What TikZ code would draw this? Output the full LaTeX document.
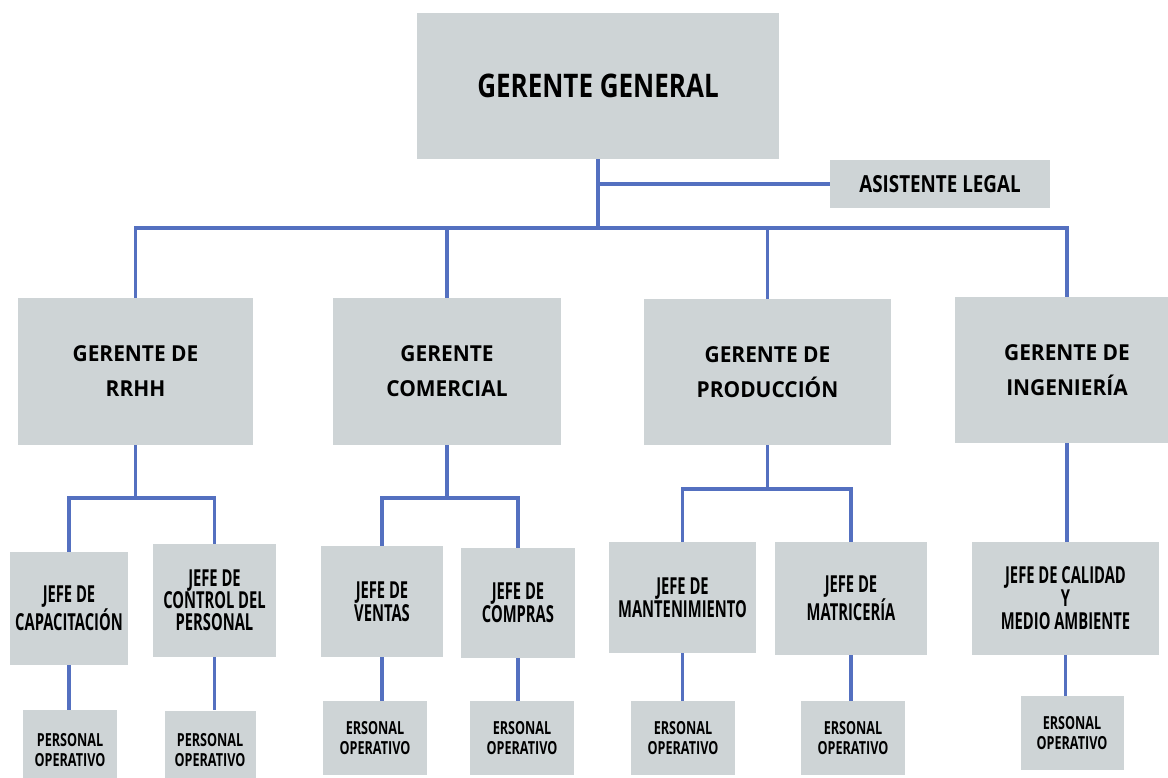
\documentclass[tikz,border=0pt]{standalone}
\usepackage{fontspec}
\setmainfont{Open Sans}[FakeStretch=0.8]
\newfontfamily\gerfont{Open Sans}[FakeStretch=0.95]
\newfontfamily\jefefont{Open Sans}[FakeStretch=0.63]
\newfontfamily\opfont{Open Sans}[FakeStretch=0.7]
\usetikzlibrary{positioning, calc}
\definecolor{boxgray}{HTML}{CED4D6}
\definecolor{linkblue}{HTML}{5470C0}

\begin{document}
\begin{tikzpicture}[
        x=1pt, y=-1pt,
        box/.style={rectangle, fill=boxgray, inner sep=0pt, align=center},
        ggbox/.style={box, font=\fontsize{32.5}{38}\selectfont\bfseries},
        asbox/.style={box, font=\fontsize{23.5}{28}\selectfont\bfseries},
        gerbox/.style={box, font=\gerfont\fontsize{22}{35}\selectfont\bfseries},
        jefebox/.style={box, font=\jefefont\fontsize{23.4}{23}\selectfont\bfseries},
        opbox/.style={box, font=\opfont\fontsize{18}{20}\selectfont\bfseries},
        link/.style={draw=linkblue, line width=3.2pt}
    ]
    \path[use as bounding box, clip] (0,0) rectangle (1168,778);

    % --- Nodes ---
    \node[ggbox, minimum width=362pt, minimum height=146pt] (gg) at (598,86) {GERENTE GENERAL};
    \node[asbox, minimum width=220pt, minimum height=48pt] (asis) at (940,184) {ASISTENTE LEGAL};

    \node[gerbox, minimum width=235pt, minimum height=147pt] (rrhh) at (135.5,371.5) {GERENTE DE\\RRHH};
    \node[gerbox, minimum width=228pt, minimum height=147pt] (com) at (447,371.5) {GERENTE\\COMERCIAL};
    \node[gerbox, minimum width=247pt, minimum height=146pt] (prod) at (767.5,372) {GERENTE DE\\PRODUCCIÓN};
    \node[gerbox, minimum width=224pt, minimum height=146pt] (ing) at (1067,370) {GERENTE DE\\INGENIERÍA};

    \node[jefebox, minimum width=118pt, minimum height=113pt] (cap) at (69,608.5) {JEFE DE\\CAPACITACIÓN};
    \node[jefebox, minimum width=123pt, minimum height=113pt, font=\jefefont\fontsize{23.4}{22}\selectfont\bfseries] (ctrl) at (214.5,600.5) {JEFE DE\\CONTROL DEL\\PERSONAL};
    \node[jefebox, minimum width=122pt, minimum height=111pt] (ventas) at (382,601.5) {JEFE DE\\VENTAS};
    \node[jefebox, minimum width=114pt, minimum height=110pt] (compras) at (518,603) {JEFE DE\\COMPRAS};
    \node[jefebox, minimum width=147pt, minimum height=111pt] (mant) at (682.5,597.5) {JEFE DE\\MANTENIMIENTO};
    \node[jefebox, minimum width=152pt, minimum height=113pt] (matr) at (851,598.5) {JEFE DE\\MATRICERÍA};
    \node[jefebox, minimum width=187pt, minimum height=113pt] (cal) at (1065.5,598.5) {JEFE DE CALIDAD\\Y\\MEDIO AMBIENTE};

    \node[opbox, minimum width=94pt, minimum height=80pt] (po1) at (70,750) {PERSONAL\\OPERATIVO};
    \node[opbox, minimum width=91pt, minimum height=80pt] (po2) at (210,750.5) {PERSONAL\\OPERATIVO};
    \node[opbox, minimum width=104pt, minimum height=74pt] (op1) at (375,738) {ERSONAL\\OPERATIVO};
    \node[opbox, minimum width=104pt, minimum height=74pt] (op2) at (522,738) {ERSONAL\\OPERATIVO};
    \node[opbox, minimum width=104pt, minimum height=74pt] (op3) at (683,738) {ERSONAL\\OPERATIVO};
    \node[opbox, minimum width=104pt, minimum height=74pt] (op4) at (853,738) {ERSONAL\\OPERATIVO};
    \node[opbox, minimum width=103pt, minimum height=74pt] (op5) at (1072,733) {ERSONAL\\OPERATIVO};

    % --- Edges ---
    \coordinate (bus) at (598,228);
    \draw[link] (gg.south) -- (bus);
    \draw[link] (gg.south |- asis.west) -- (asis.west);
    \draw[link] (rrhh.north) |- (bus) -| (ing.north);
    \draw[link] (com.north) -- (com.north |- bus);
    \draw[link] (prod.north) -- (prod.north |- bus);

    % ramas de cada gerencia
    \coordinate (rjoin) at (135.5,498);
    \coordinate (cjoin) at (447,498);
    \coordinate (pjoin) at (767.5,489);
    \draw[link] (rrhh.south) -- (rjoin);
    \draw[link] (cap.north) |- (rjoin) -| (ctrl.north);
    \draw[link] (com.south) -- (cjoin);
    \draw[link] (ventas.north) |- (cjoin) -| (compras.north);
    \draw[link] (prod.south) -- (pjoin);
    \draw[link] (mant.north) |- (pjoin) -| (matr.north);
    \draw[link] (ing.south) -- (ing.south |- cal.north);

    % personal operativo
    \foreach \jefe/\op in {cap/po1, ctrl/po2, ventas/op1, compras/op2, mant/op3, matr/op4, cal/op5}
        \draw[link] (\jefe.south) -- (\jefe.south |- \op.north);

\end{tikzpicture}
\end{document}
